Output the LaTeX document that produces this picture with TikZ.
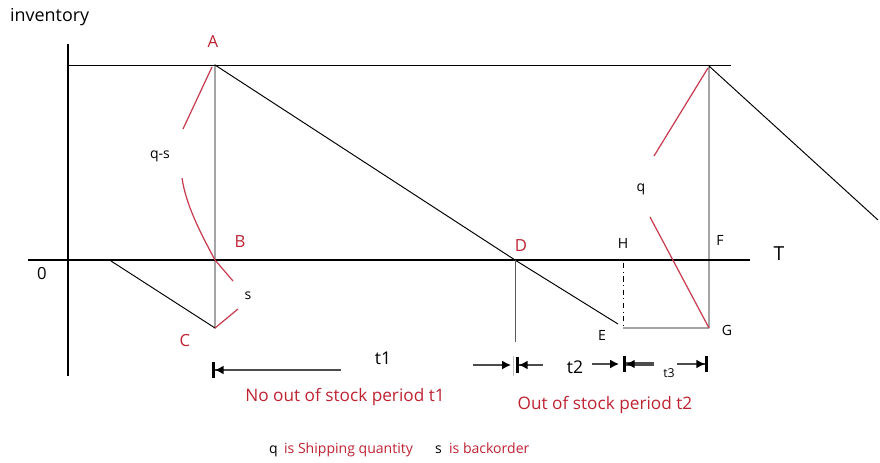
\documentclass[tikz,border=0pt]{standalone}
\usepackage{fontspec}
\setmainfont{Open Sans}
\usetikzlibrary{arrows.meta}
\definecolor{ared}{RGB}{190,35,50}
\definecolor{lred}{RGB}{200,60,80}

\begin{document}
\begin{tikzpicture}[x=0.02cm, y=-0.02cm,
  axis/.style={line width=1.7pt},
  curve/.style={line width=0.55pt},
  brace/.style={lred, line width=0.7pt},
  pt/.style={font=\fontsize{9.5}{11}\selectfont, inner sep=1pt},
  redpt/.style={pt, text=ared},
  dim/.style={line width=0.8pt, gray!60!black},
  dimL/.style={dim, {Bar[width=9pt,line width=1.6pt,color=black]Latex[length=5pt,width=5pt,color=black]}-},
  dimR/.style={dim, -{Latex[length=5pt,width=5pt,color=black]Bar[width=9pt,line width=1.6pt,color=black]}}]
\useasboundingbox (0,0) rectangle (880,463);
% ---- axes ----
\draw[axis] (68,44) -- (68,376);
\draw[axis] (28,260) -- (750,260);
\node[pt, font=\fontsize{10.2}{12}\selectfont, anchor=west] (inv) at (8,17) {inventory};
\node[pt] (zero) at (42,274) {0};
\node[pt, font=\fontsize{11}{13}\selectfont] (tT) at (779,254) {T};
% ---- key points ----
\coordinate (A) at (215,65);
\coordinate (B) at (215,260);
\coordinate (C) at (215,328);
\coordinate (D) at (515,260);
\coordinate (E) at (618,324);
\coordinate (H) at (623,263);
\coordinate (Hl) at (623,328);
\coordinate (F) at (709,260);
\coordinate (G) at (709,328);
\coordinate (Ft) at (709,66);
\coordinate (start) at (111,261);
% ---- inventory curve ----
\draw[curve] (68,65) -- (731,65);
\draw[curve] (start) -- (C) -- (A) -- (D) -- (E);
\draw[curve, gray!70!black] (D) -- (515,342);
\draw[curve, dash dot] (H) -- (Hl);
\draw[curve] (Hl) -- (G) -- (Ft) -- (878,220);
% ---- red braces ----
\draw[brace] (212,67) -- (183,129);
\draw[brace] (182,178) .. controls (186,205) and (200,232) .. (B) -- (233,281);
\draw[brace] (238,309) -- (C);
\draw[brace] (708,68) -- (654,156);
\draw[brace] (650,217) -- (G);
% ---- point labels ----
\node[redpt] (lA) at (213,42) {A};
\node[redpt] (lB) at (240,242) {B};
\node[redpt] (lC) at (185,341) {C};
\node[redpt] (lD) at (521,246) {D};
\node[pt, font=\fontsize{8}{10}\selectfont] (lH) at (623,243) {H};
\node[pt, font=\fontsize{8}{10}\selectfont] (lF) at (720,240) {F};
\node[pt, font=\fontsize{8}{10}\selectfont] (lE) at (602,335) {E};
\node[pt, font=\fontsize{8}{10}\selectfont] (lG) at (727,330) {G};
\node[pt, font=\fontsize{8}{10}\selectfont] (qs) at (160,156) {q-s};
\node[pt, font=\fontsize{8}{10}\selectfont] (s) at (248,296) {s};
\node[pt, font=\fontsize{8}{10}\selectfont] (q) at (641,189) {q};
% ---- periods ----
\draw[dimL] (212,370) -- (341,370);
\node[pt, font=\fontsize{10}{12}\selectfont] (t1) at (383,358) {t1};
\draw[dim, -{Latex[length=5pt,width=5pt,color=black]}] (473,365) -- (511,365);
\draw[curve, gray!50] (513,356) -- (513,376);
\draw[dimL] (516,365) -- (543,365);
\node[pt, font=\fontsize{10}{12}\selectfont] (t2) at (575,367) {t2};
\draw[dim, -{Latex[length=5pt,width=5pt,color=black]}] (592,364) -- (619,364);
\draw[dimL, line width=1.8pt] (623,364) -- (654,364);
\node[pt, font=\fontsize{7}{9}\selectfont] (t3) at (669,373) {t3};
\draw[dimR] (677,364) -- (708,364);
\node[redpt, font=\fontsize{9.8}{12}\selectfont] (no) at (345,397) {No out of stock period t1};
\node[redpt, font=\fontsize{9.8}{12}\selectfont] (out) at (605,405) {Out of stock period t2};
% ---- legend ----
\node[pt, font=\fontsize{8}{10}\selectfont, anchor=base west] (lq) at (267,453) {q};
\node[redpt, font=\fontsize{8}{10}\selectfont, anchor=base west] (lqt) at (282,453) {is Shipping quantity};
\node[pt, font=\fontsize{8}{10}\selectfont, anchor=base west] (ls) at (433,453) {s};
\node[redpt, font=\fontsize{8}{10}\selectfont, anchor=base west] (lst) at (447,453) {is backorder};
\end{tikzpicture}
\end{document}
